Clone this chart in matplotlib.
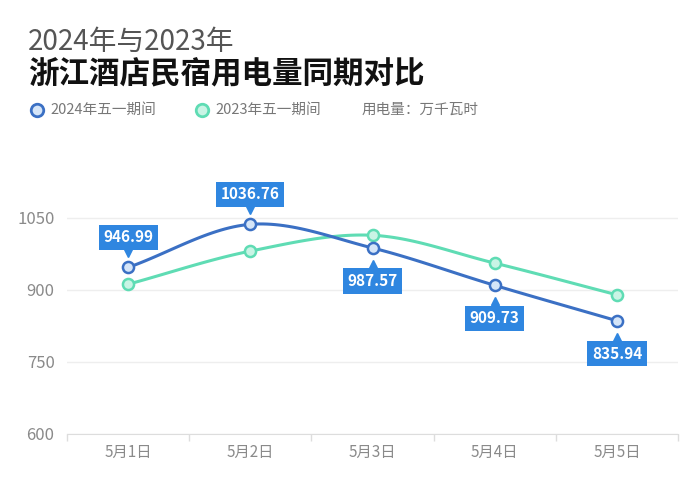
import numpy as np
import matplotlib
matplotlib.use("Agg")
import matplotlib.pyplot as plt
from matplotlib.transforms import offset_copy

plt.rcParams['font.family'] = ['Noto Sans CJK SC', 'DejaVu Sans']

days = ["5月1日", "5月2日", "5月3日", "5月4日", "5月5日"]
v2024 = [946.99, 1036.76, 987.57, 909.73, 835.94]
v2023 = [912, 981, 1014, 956, 890]
label_side = ["up", "up", "down", "down", "down"]
yticks = [600, 750, 900, 1050]

c24 = "#3b70c4"
c24_fill = "#d5e5f8"
c23 = "#5fdcb4"
c23_fill = "#c9f4e5"
box_c = "#2f86e0"


def smooth(x, y, n=30, k=0.35):
    # cubic hermite curve through the points, only for drawing
    x = np.asarray(x, float)
    y = np.asarray(y, float)
    m = np.zeros_like(y)
    for i in range(len(y)):
        a = max(i - 1, 0)
        b = min(i + 1, len(y) - 1)
        m[i] = (y[b] - y[a]) / (x[b] - x[a]) * (2 * k + 0.3)
    xs, ys = [], []
    for i in range(len(y) - 1):
        t = np.linspace(0, 1, n)
        h = x[i + 1] - x[i]
        h00 = 2 * t**3 - 3 * t**2 + 1
        h10 = t**3 - 2 * t**2 + t
        h01 = -2 * t**3 + 3 * t**2
        h11 = t**3 - t**2
        xs.append(x[i] + t * h)
        ys.append(h00 * y[i] + h10 * h * m[i] + h01 * y[i + 1] + h11 * h * m[i + 1])
    return np.concatenate(xs), np.concatenate(ys)


fig = plt.figure(figsize=(7, 4.96), dpi=100)
ax = fig.add_axes([67 / 700, 62 / 496, 611 / 700, 288 / 496])

xs = np.arange(len(days))
sx, sy = smooth(xs, v2023)
ax.plot(sx, sy, color=c23, lw=2.2, zorder=3)
ax.plot(xs, v2023, "o", ms=8, mfc=c23_fill, mec=c23, mew=1.8, zorder=4)
sx, sy = smooth(xs, v2024)
ax.plot(sx, sy, color=c24, lw=2.2, zorder=5)
ax.plot(xs, v2024, "o", ms=8, mfc=c24_fill, mec=c24, mew=1.8, zorder=6)

for x, v, side in zip(xs, v2024, label_side):
    off = 30 if side == "up" else -33
    ax.annotate(f"{v:.2f}", (x, v), xytext=(0, off * 0.72), textcoords="offset points",
                ha="center", va="center", color="white", fontsize=11, fontweight="bold",
                bbox=dict(boxstyle="square,pad=0.3", fc=box_c, ec="none"), zorder=7)
    tri_off = 14 if side == "up" else -16
    tr = offset_copy(ax.transData, fig=fig, x=0, y=tri_off * 0.72, units="points")
    ax.plot([x], [v], marker="v" if side == "up" else "^", ms=6, color=box_c,
            transform=tr, zorder=7, clip_on=False)

ax.set_xlim(-0.5, 4.5)
ax.set_ylim(600, 1200)
ax.set_yticks(yticks)
ax.set_yticklabels([str(t) for t in yticks])
ax.set_xticks(xs)
ax.set_xticklabels(days)
ax.set_xticks(np.arange(-0.5, 5, 1), minor=True)
ax.tick_params(axis="x", which="major", length=0, pad=7, labelsize=11, labelcolor="#8a8a8a")
ax.tick_params(axis="x", which="minor", length=5, color="#dddddd", width=1)
ax.tick_params(axis="y", length=0, pad=9, labelsize=12, labelcolor="#8a8a8a")
ax.grid(axis="y", color="#eeeeee", lw=1)
for s in ["top", "right", "left"]:
    ax.spines[s].set_visible(False)
ax.spines["bottom"].set_color("#dddddd")
ax.set_axisbelow(True)

fig.text(28 / 700, 1 - 42 / 496, "2024年与2023年", fontsize=20, fontweight="light",
         color="#555555", va="center")
fig.text(28 / 700, 1 - 74 / 496, "浙江酒店民宿用电量同期对比",
         fontsize=22, fontweight="bold", color="#111111", va="center")

fig.lines.append(plt.Line2D([37 / 700], [1 - 110 / 496], marker="o", ms=9, mfc=c24_fill,
                            mec=c24, mew=2, transform=fig.transFigure))
fig.lines.append(plt.Line2D([202 / 700], [1 - 110 / 496], marker="o", ms=9, mfc=c23_fill,
                            mec=c23, mew=2, transform=fig.transFigure))
fig.text(50 / 700, 1 - 110 / 496, "2024年五一期间", fontsize=10.5, color="#777777", va="center")
fig.text(215 / 700, 1 - 110 / 496, "2023年五一期间", fontsize=10.5, color="#777777", va="center")
fig.text(362 / 700, 1 - 110 / 496, "用电量：万千瓦时", fontsize=10.5, color="#777777", va="center")

fig.savefig("out.png", dpi=100, facecolor="white")
